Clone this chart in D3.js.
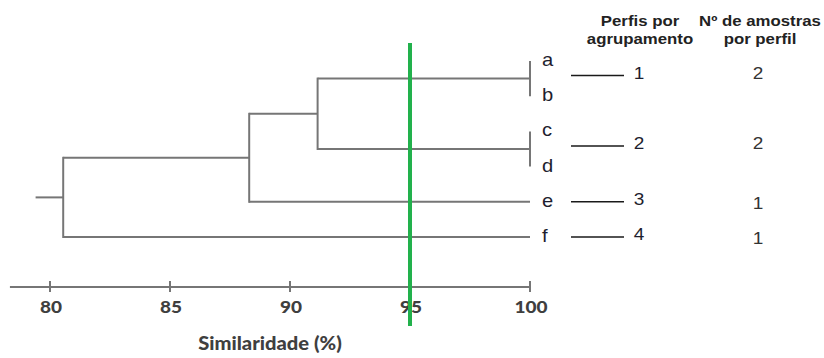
<!DOCTYPE html>
<html>
<head>
<meta charset="utf-8">
<script src="https://cdn.jsdelivr.net/npm/d3@7"></script>
<style>
  body { margin: 0; background: #fff; }
  svg { display: block; }
</style>
</head>
<body>
<div id="chart"></div>
<script>
// leaves of the dendrogram, top to bottom
const leaves = ["a", "b", "c", "d", "e", "f"];
// merges: [left child, right child, similarity (%)]
const merges = [
  ["a", "b", 100],
  ["c", "d", 100],
  ["ab", "cd", 91.15],
  ["abcd", "e", 88.3],
  ["abcde", "f", 80.55]
];
const rootStub = 79.4;
const axisStart = 78.33;
const tickValues = [80, 85, 90, 95, 100];
const cutoff = 95;

const groupLabels = ["1", "2", "3", "4"];
const groupMembers = [["a", "b"], ["c", "d"], ["e"], ["f"]];
const sampleCounts = ["2", "2", "1", "1"];

const width = 824, height = 358;
const SX = 1.12; // source figure is slightly stretched sideways

const x = d3.scaleLinear().domain([80, 100]).range([50, 530]);
const y = d3.scalePoint().domain(leaves).range([61, 237]);

const svg = d3.select("#chart").append("svg")
  .attr("width", width)
  .attr("height", height);

let txt = (x0, y0, s, anchor, font, size, weight, fill) => {
  return svg.append("text")
    .attr("transform", "translate(" + x0 + "," + y0 + ") scale(" + SX + ",1)")
    .attr("text-anchor", anchor)
    .style("font-family", font)
    .style("font-size", size + "px")
    .style("font-weight", weight)
    .attr("fill", fill)
    .text(s);
};

// node positions
const nodes = {};
leaves.forEach(l => { nodes[l] = { h: 100, y: y(l) }; });

const lineColor = "#767676";
const dendro = svg.append("g")
  .attr("stroke", lineColor)
  .attr("stroke-width", 2)
  .attr("fill", "none");

let lastKey;
merges.forEach(m => {
  const a = nodes[m[0]], b = nodes[m[1]], h = m[2];
  // vertical joining bar
  dendro.append("line")
    .attr("x1", x(h)).attr("x2", x(h))
    .attr("y1", a.y - (h === 100 ? 0 : 1)).attr("y2", b.y + (h === 100 ? 0 : 1));
  // horizontal branches to each child
  [a, b].forEach(c => {
    if (c.h !== h) {
      dendro.append("line")
        .attr("x1", x(h)).attr("x2", x(c.h))
        .attr("y1", c.y).attr("y2", c.y);
    }
  });
  lastKey = m[0] + m[1];
  nodes[lastKey] = { h: h, y: (a.y + b.y) / 2 };
});

// root stub
dendro.append("line")
  .attr("x1", x(rootStub)).attr("x2", x(nodes[lastKey].h))
  .attr("y1", nodes[lastKey].y).attr("y2", nodes[lastKey].y);

// leaf labels
leaves.forEach(l => {
  txt(542, y(l) + 5, l, "start", "'Liberation Sans', Arial, sans-serif", 18, "normal", "#1e1e2e");
});

// axis
const axisY = 287;
const axisG = svg.append("g")
  .attr("stroke", lineColor)
  .attr("stroke-width", 2);
axisG.append("line")
  .attr("x1", x(axisStart)).attr("x2", x(100))
  .attr("y1", axisY).attr("y2", axisY);
tickValues.forEach(v => {
  axisG.append("line")
    .attr("x1", x(v)).attr("x2", x(v))
    .attr("y1", axisY - 6).attr("y2", axisY + 5);
  txt(x(v) + 1, 313, d3.format("d")(v), "middle", "Lato, 'Open Sans', sans-serif", 17, 900, "#3f3f3f");
});

txt((x(axisStart) + x(100)) / 2, 350, "Similaridade (%)", "middle", "Lato, 'Open Sans', sans-serif", 18, 900, "#3f3f3f");

// cut-off line
svg.append("line")
  .attr("x1", x(cutoff)).attr("x2", x(cutoff))
  .attr("y1", 43).attr("y2", 326)
  .attr("stroke", "#22b14c")
  .attr("stroke-width", 4);

// header
const hFont = "'Liberation Sans', Arial, sans-serif";
txt(640, 26, "Perfis por", "middle", hFont, 15, "bold", "#222");
txt(640, 44, "agrupamento", "middle", hFont, 15, "bold", "#222");
txt(760, 26, "Nº de amostras", "middle", hFont, 15, "bold", "#222");
txt(760, 44, "por perfil", "middle", hFont, 15, "bold", "#222");

// group rows
groupLabels.forEach((g, i) => {
  const members = groupMembers[i];
  const gy = d3.mean(members, m => y(m)) - (members.length > 1 ? 3 : 0);
  svg.append("line")
    .attr("x1", 571).attr("x2", 624)
    .attr("y1", gy).attr("y2", gy)
    .attr("stroke", "#1a1a1a")
    .attr("stroke-width", 1.5);
  txt(639, gy + 3, g, "middle", hFont, 17, "normal", "#1e1e2e");
  txt(758, gy + (members.length > 1 ? 3 : 7), sampleCounts[i], "middle", hFont, 17, "normal", "#333");
});
</script>
</body>
</html>
